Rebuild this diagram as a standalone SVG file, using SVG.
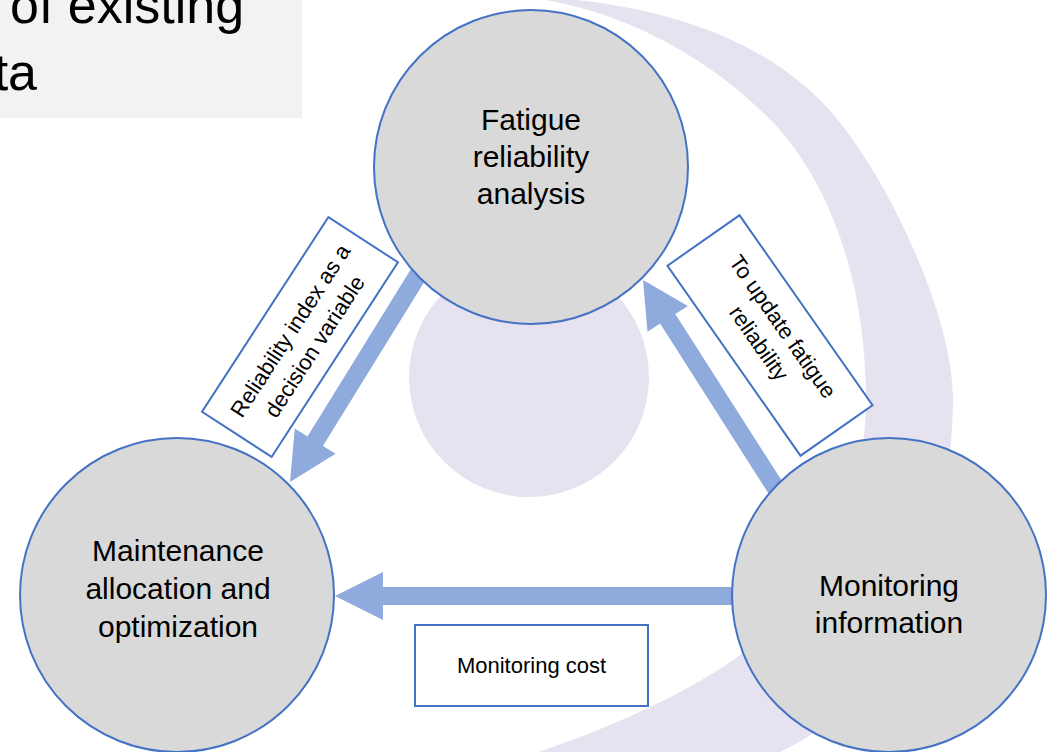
<svg xmlns="http://www.w3.org/2000/svg" width="1051" height="752" viewBox="0 0 1051 752">
<style>
.bg{fill:#e7e2ef}
.node{fill:#d9d9d9;stroke:#4472c4;stroke-width:2}
.ntext{font-family:"Liberation Sans",Arial,sans-serif;font-size:30px;fill:#000;text-anchor:middle}
.arrow{fill:#8faadc}
.lbox{fill:#fff;stroke:#4472c4;stroke-width:2}
.ltext{font-family:"Liberation Sans",Arial,sans-serif;font-size:22px;fill:#000;text-anchor:middle}
.title{font-family:"Liberation Sans",Arial,sans-serif;font-size:52px;fill:#000}
</style>
<rect width="1051" height="752" fill="#fff"/>
<g id="background">
<path class="bg" d="M 520,-4 C 640,0 750,30 820,100 C 880,160 953,310 953,400 C 953,480 930,560 900,600 C 880,700 800,775 650,780 L 450,780 C 560,748 680,705 760,640 C 820,585 866,500 866,400 C 866,300 840,200 780,130 C 730,75 640,10 520,-4 Z"/>
<circle class="bg" cx="529" cy="377" r="120"/>
</g>
<g id="title-box">
<rect x="0" y="0" width="302" height="118" fill="#f2f2f2"/>
<text class="title" x="10" y="23">of existing</text>
<text class="title" x="37" y="90" text-anchor="end">ta</text>
</g>
<g id="connectors">
<polygon class="arrow" points="429.0,274.2 413.6,264.8 307.5,436.5 294.8,428.6 290,482 335.6,453.8 322.9,445.9"/>
<polygon class="arrow" points="788.0,490.6 772.8,500.2 660.1,323.6 647.5,331.7 643,280 687.9,305.9 675.3,314.0"/>
<polygon class="arrow" points="745,587 383,587 383,572 335,596 383,620 383,605 745,605"/>
</g>
<g id="node-fatigue">
<circle class="node" cx="531" cy="167" r="157"/>
<text class="ntext" x="531" y="130">Fatigue</text>
<text class="ntext" x="531" y="167">reliability</text>
<text class="ntext" x="531" y="204">analysis</text>
</g>
<g id="node-maintenance">
<circle class="node" cx="177" cy="595" r="157"/>
<text class="ntext" x="178" y="561">Maintenance</text>
<text class="ntext" x="178" y="599">allocation and</text>
<text class="ntext" x="178" y="637">optimization</text>
</g>
<g id="node-monitoring">
<circle class="node" cx="889" cy="595" r="157"/>
<text class="ntext" x="889" y="596">Monitoring</text>
<text class="ntext" x="889" y="633">information</text>
</g>
<g id="labels">
<g id="label-reliability-index" transform="translate(300,337) rotate(-57)">
<rect class="lbox" x="-116" y="-41.5" width="232" height="83"/>
<text class="ltext" x="0" y="-4">Reliability index as a</text>
<text class="ltext" x="0" y="25">decision variable</text>
</g>
<g id="label-update" transform="translate(770,335.5) rotate(55)">
<rect class="lbox" x="-116" y="-44" width="232" height="88"/>
<text class="ltext" x="0" y="-8">To update fatigue</text>
<text class="ltext" x="0" y="21">reliability</text>
</g>
<g id="label-cost">
<rect class="lbox" x="415" y="625" width="233" height="81"/>
<text class="ltext" x="531.5" y="673">Monitoring cost</text>
</g>
</g>
</svg>
